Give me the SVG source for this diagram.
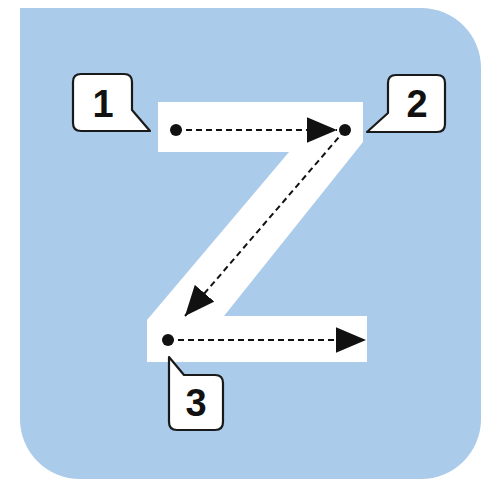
<svg xmlns="http://www.w3.org/2000/svg" width="482" height="482" viewBox="0 0 482 482">
  <defs>
    <style>
      .bg { fill: #abcbea; }
      .z { fill: #ffffff; }
      .call { fill: #ffffff; stroke: #1a1a1a; stroke-width: 2.2; stroke-linejoin: round; }
      .num { font-family: "Liberation Sans", Arial, sans-serif; font-weight: bold; font-size: 38px; fill: #111; text-anchor: middle; }
      .conn { fill: none; stroke: #111; stroke-width: 2; stroke-dasharray: 6 4; }
      .dot { fill: #111; }
    </style>
    <marker id="arrow" markerUnits="userSpaceOnUse" markerWidth="30" markerHeight="26" viewBox="0 0 28 24" refX="28" refY="12" orient="auto">
      <path d="M0,0 L28,12 L0,24 Z" fill="#111"/>
    </marker>
  </defs>
  <path class="bg" d="M20,8 H421 A60,60 0 0 1 481,68 V419 A60,60 0 0 1 421,479 H80 A60,60 0 0 1 20,419 Z"/>
  <g id="zshape">
    <polygon class="z" points="158,102 363,102 363,142 224,316 367,316 367,362 147,362 147,320 289,152 158,152"/>
  </g>
  <g id="connectors">
    <line class="conn" x1="176" y1="130" x2="337" y2="130" marker-end="url(#arrow)"/>
    <line class="conn" x1="345" y1="130" x2="185" y2="316" marker-end="url(#arrow)"/>
    <line class="conn" x1="168" y1="340" x2="366" y2="340" marker-end="url(#arrow)"/>
  </g>
  <g id="dots">
    <circle class="dot" cx="176" cy="130" r="6"/>
    <circle class="dot" cx="345" cy="130" r="6"/>
    <circle class="dot" cx="168" cy="340" r="6"/>
  </g>
  <g id="callout1">
    <path class="call" d="M81,74 H124 Q132,74 132,82 V110 L150,131 H81 Q73,131 73,123 V82 Q73,74 81,74 Z"/>
    <text class="num" x="103" y="117">1</text>
  </g>
  <g id="callout2">
    <path class="call" d="M396,75 H437 Q445,75 445,83 V124 Q445,132 437,132 H367 L388,113 V83 Q388,75 396,75 Z"/>
    <text class="num" x="417" y="117">2</text>
  </g>
  <g id="callout3">
    <path class="call" d="M169,357 L184,375 H215 Q223,375 223,383 V422 Q223,430 215,430 H177 Q169,430 169,422 Z"/>
    <text class="num" x="196" y="416">3</text>
  </g>
</svg>
